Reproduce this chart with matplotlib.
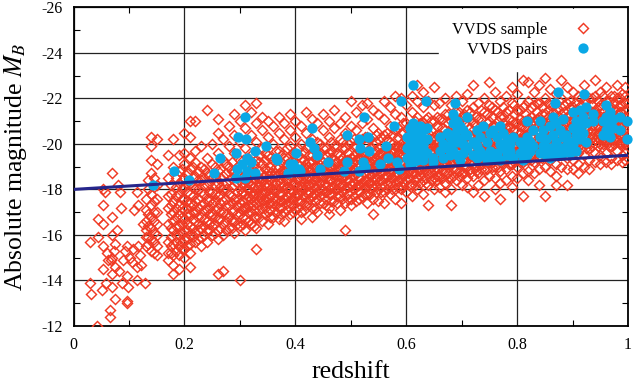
# VVDS sample and pairs, absolute magnitude against redshift
import matplotlib
matplotlib.use('Agg')
import matplotlib.pyplot as plt

plt.rcParams['font.family'] = ['Liberation Serif', 'DejaVu Serif']
plt.rcParams['mathtext.fontset'] = 'stix'
plt.rcParams['axes.unicode_minus'] = False

# scattered low redshift galaxies, read one by one
low_z = [.042, .065, .066, .030, .031, .051, .069, .054, .069, .075, .087, .096, .099, .096, .097,
         .114, .129, .114, .030, .045, .054, .069, .075, .096, .117, .120, .102, .044, .054, .069,
         .078, .069, .075, .053, .054, .056, .070, .081, .083, .085, .109, .117, .115, .126, .060,
         .090, .105, .062, .073, .082, .093, .108, .122, .058, .067]
low_mag = [-12.0, -12.7, -12.4, -13.9, -13.4, -13.6, -13.7, -14.5, -14.3, -13.2, -13.9, -14.2, -13.7, -13.1, -13.0,
           -14.6, -13.9, -14.0, -15.7, -15.9, -15.5, -15.0, -14.6, -15.5, -15.5, -15.1, -15.0, -16.7, -16.5, -16.8,
           -16.2, -16.0, -15.6, -17.3, -18.0, -17.9, -18.7, -18.2, -17.9, -17.2, -17.1, -17.3, -17.9, -16.5, -15.2,
           -14.9, -14.8, -14.9, -15.3, -14.4, -15.3, -15.4, -14.7, -13.9, -14.9]

# outer part of the sample, magnitudes read along each redshift column
col_z = [.13, .14, .15, .17, .18, .19, .20, .21, .22, .23, .24, .25, .26, .27, .28, .29, .30, .31, .32,
         .33, .34, .35, .36, .37, .38, .39, .40, .41, .42, .43, .44, .45, .46, .47, .48, .49, .50, .51, .52,
         .53, .54, .55, .56, .57, .58, .59, .60, .61, .62, .63, .64, .65, .66, .67, .68, .69, .70, .71, .72,
         .73, .74, .75, .76, .77, .78, .79, .80, .81, .82, .83, .84, .85, .86, .87, .88, .89, .90, .91, .92,
         .93, .94, .95, .96, .97, .98, .99, .995]
col_mags = [
    [-17.6, -17.1, -16.6, -16.2, -15.9, -15.5],
    [-20.3, -19.9, -19.3, -18.7, -17.8, -17.3, -16.8, -16.3, -15.8, -15.3],
    [-20.2, -19.1, -18.2, -17.6, -17.0, -16.5, -16.0, -15.5, -15.1],
    [-19.5, -18.5, -17.7, -17.2, -16.5, -15.7, -15.2, -14.9],
    [-20.2, -19.0, -17.5, -17.0, -16.6, -16.2, -15.6, -15.1, -14.7, -14.3],
    [-19.5, -18.8, -18.3, -17.8, -17.3, -16.9, -16.4, -16.0, -15.5, -15.1, -14.5],
    [-20.5, -19.6, -19.1, -18.5, -18.1, -17.6, -17.1, -16.7, -16.2, -15.8, -15.4, -15.0],
    [-21.0, -20.3, -19.4, -18.9, -18.3, -17.8, -17.4, -16.9, -16.4, -16.0, -15.6, -15.2, -14.6],
    [-21.0, -19.7, -19.2, -18.6, -18.0, -17.5, -17.0, -16.6, -16.1, -15.7],
    [-19.9, -19.0, -18.4, -17.9, -17.3, -16.8, -16.3, -15.9, -15.5],
    [-21.5, -19.4, -18.7, -18.2, -17.6, -17.1, -16.6, -16.2, -15.7],
    [-20.0, -19.1, -18.5, -17.9, -17.4, -16.9, -16.4, -16.0],
    [-21.1, -20.5, -19.6, -18.8, -18.3, -17.7, -17.2, -16.7, -16.2, -15.8, -14.3],
    [-20.2, -19.3, -18.6, -18.0, -17.5, -17.0, -16.5, -16.0, -14.4],
    [-20.8, -19.9, -19.0, -18.4, -17.8, -17.3, -16.8, -16.3],
    [-21.3, -20.4, -19.6, -18.8, -18.2, -17.6, -17.1, -16.6, -16.1],
    [-21.0, -20.1, -19.3, -18.6, -18.0, -17.4, -16.9, -16.4, -14.0],
    [-21.7, -20.7, -19.8, -19.1, -18.4, -17.8, -17.2, -16.7, -16.2],
    [-21.4, -20.4, -19.5, -18.8, -18.2, -17.6, -17.0, -16.5],
    [-21.8, -20.9, -20.1, -19.3, -18.6, -18.0, -17.4, -16.8, -16.3, -15.4],
    [-21.2, -20.6, -19.8, -19.1, -18.4, -17.8, -17.2, -16.6],
    [-21.0, -20.3, -19.5, -18.8, -18.2, -17.6, -17.0, -16.5],
    [-20.8, -20.0, -19.3, -18.6, -18.0, -17.4, -16.8],
    [-21.2, -20.5, -19.7, -19.0, -18.4, -17.8, -17.2, -16.7],
    [-20.9, -20.2, -19.4, -18.8, -18.2, -17.6, -17.0, -16.6],
    [-21.3, -20.6, -19.9, -19.2, -18.6, -18.0, -17.4, -16.9],
    [-21.0, -20.3, -19.6, -18.9, -18.3, -17.7, -17.1],
    [-20.8, -20.0, -19.4, -18.7, -18.1, -17.5, -17.0, -16.7],
    [-21.4, -20.5, -19.8, -19.1, -18.5, -17.9, -17.3],
    [-21.1, -20.2, -19.5, -18.9, -18.3, -17.7, -17.2, -16.8],
    [-20.9, -20.1, -19.4, -18.8, -18.2, -17.6, -17.0],
    [-21.3, -20.6, -19.8, -19.2, -18.6, -18.0, -17.4],
    [-21.0, -20.3, -19.6, -19.0, -18.4, -17.8, -17.2, -16.9],
    [-21.5, -20.7, -19.9, -19.3, -18.7, -18.1, -17.5],
    [-20.9, -20.2, -19.5, -18.9, -18.3, -17.7, -17.1],
    [-21.2, -20.5, -19.8, -19.2, -18.6, -18.0, -17.4, -16.2],
    [-21.9, -20.8, -20.1, -19.4, -18.8, -18.2, -17.6, -17.3],
    [-21.4, -20.6, -19.9, -19.3, -18.7, -18.1, -17.5],
    [-21.7, -20.9, -20.2, -19.5, -18.9, -18.3, -17.7],
    [-21.8, -21.1, -20.3, -19.6, -19.0, -18.4, -17.8, -17.4],
    [-21.5, -20.7, -20.0, -19.3, -18.7, -18.1, -17.6, -16.9],
    [-21.3, -20.5, -19.8, -19.2, -18.6, -18.0, -17.5],
    [-21.9, -21.1, -20.4, -19.7, -19.1, -18.5, -17.9, -17.4],
    [-21.6, -20.8, -20.1, -19.5, -18.9, -18.3, -17.8],
    [-22.1, -21.3, -20.6, -19.9, -19.2, -18.6, -18.0, -17.6],
    [-22.0, -21.2, -20.5, -19.8, -19.1, -18.5, -18.0, -17.4],
    [-21.7, -20.9, -20.2, -19.6, -19.0, -18.4, -17.9],
    [-22.1, -21.4, -20.7, -20.0, -19.3, -18.7, -18.2, -17.7],
    [-22.6, -21.9, -21.2, -20.5, -19.8, -19.1, -18.5, -18.0],
    [-22.3, -21.6, -20.9, -20.2, -19.6, -19.0, -18.4, -17.8],
    [-21.9, -21.2, -20.5, -19.9, -19.3, -18.7, -18.2, -17.3],
    [-22.5, -21.7, -21.0, -20.3, -19.7, -19.1, -18.5, -18.0],
    [-21.8, -21.1, -20.4, -19.8, -19.2, -18.6, -18.1],
    [-22.0, -21.3, -20.6, -20.0, -19.4, -18.8, -18.3, -17.9],
    [-21.7, -21.0, -20.3, -19.7, -19.1, -18.5, -18.0, -17.3],
    [-22.1, -21.4, -20.7, -20.1, -19.5, -18.9, -18.4],
    [-21.9, -21.2, -20.5, -19.9, -19.3, -18.7, -18.2],
    [-22.2, -21.5, -20.8, -20.2, -19.6, -19.0, -18.5, -18.1],
    [-22.6, -21.6, -20.9, -20.3, -19.7, -19.1, -18.6, -17.9],
    [-21.8, -21.1, -20.5, -19.9, -19.3, -18.7, -18.2],
    [-22.0, -21.4, -20.7, -20.1, -19.5, -18.9, -18.4, -17.7],
    [-22.7, -21.7, -21.0, -20.4, -19.8, -19.2, -18.6],
    [-22.3, -21.5, -20.8, -20.2, -19.6, -19.0, -18.5, -18.0],
    [-21.9, -21.2, -20.6, -20.0, -19.4, -18.8, -18.3, -17.6],
    [-22.1, -21.4, -20.7, -20.1, -19.5, -18.9, -18.4],
    [-22.5, -21.8, -21.0, -20.3, -19.7, -19.1, -18.6, -18.1],
    [-22.2, -21.5, -20.9, -20.2, -19.6, -19.0, -18.5],
    [-22.8, -21.6, -21.0, -20.4, -19.8, -19.2, -18.7, -17.7],
    [-22.7, -21.9, -21.1, -20.5, -19.9, -19.3, -18.8, -18.4],
    [-22.3, -21.7, -21.0, -20.4, -19.8, -19.2, -18.7],
    [-22.6, -21.8, -21.2, -20.6, -20.0, -19.4, -18.9, -18.2],
    [-22.9, -22.0, -21.3, -20.7, -20.1, -19.5, -19.0, -17.7],
    [-22.4, -21.7, -21.1, -20.5, -19.9, -19.3, -18.8],
    [-22.2, -21.5, -20.9, -20.3, -19.7, -19.1, -18.6, -18.2],
    [-22.8, -22.0, -21.3, -20.7, -20.1, -19.5, -19.0],
    [-22.5, -21.8, -21.2, -20.6, -20.0, -19.4, -18.9, -18.2],
    [-22.3, -21.6, -21.0, -20.4, -19.8, -19.3, -18.9],
    [-22.1, -21.4, -20.8, -20.2, -19.6, -19.1, -18.7],
    [-22.6, -21.9, -21.3, -20.7, -20.1, -19.5, -19.0],
    [-22.0, -21.5, -20.9, -20.3, -19.8, -19.3, -18.9],
    [-22.8, -22.1, -21.4, -20.8, -20.2, -19.6, -19.2],
    [-22.3, -21.7, -21.1, -20.5, -20.0, -19.5, -19.1],
    [-22.5, -21.9, -21.2, -20.6, -20.1, -19.6, -19.2],
    [-22.1, -21.6, -21.0, -20.4, -19.9, -19.4, -19.1],
    [-22.6, -22.0, -21.3, -20.7, -20.2, -19.7, -19.3],
    [-22.2, -21.7, -21.1, -20.5, -20.0, -19.5, -19.2],
    [-22.5, -21.8, -21.2, -20.6, -20.1, -19.6, -19.3],
]

# crowded core of the sample, read along the redshift columns in between
core_z = [.135, .145, .175, .185, .195, .205, .215, .225, .235, .245, .255, .265, .275, .285, .295, .305, .315, .325,
          .335, .345, .355, .365, .375, .385, .395, .405, .415, .425, .435, .445, .455, .465, .475, .485, .495, .505,
          .515, .525, .535, .545, .555, .565, .575, .585, .595, .605, .615, .625, .635, .645, .655, .665, .675, .685,
          .695, .705, .715, .725, .735, .745, .755, .765, .775, .785, .795, .805, .815, .825, .835, .845, .855, .865,
          .875, .885, .895, .905, .915, .925, .935, .945, .955, .965, .975, .985, .995]
core_mags = [
    [-18.4, -18.0, -16.9, -16.4, -15.9, -15.6],
    [-18.5, -18.1, -17.5, -17.0, -16.6, -16.1, -15.7, -15.2],
    [-18.2, -17.8, -17.3, -16.9, -16.3, -15.9, -15.5, -15.2],
    [-18.5, -18.1, -17.7, -17.2, -16.8, -16.4, -16.0, -15.7, -15.3],
    [-18.9, -18.4, -18.0, -17.6, -17.2, -16.8, -16.5, -16.1, -15.7, -15.4],
    [-18.7, -18.3, -17.9, -17.5, -17.2, -16.9, -16.5, -16.2, -15.8, -15.5],
    [-19.0, -18.5, -18.1, -17.7, -17.3, -17.0, -16.7, -16.3, -15.9],
    [-18.8, -18.4, -18.0, -17.6, -17.2, -16.8, -16.5, -16.2, -15.8],
    [-18.9, -18.5, -18.2, -17.8, -17.4, -17.1, -16.7, -16.4, -16.0],
    [-18.6, -18.3, -17.9, -17.5, -17.2, -16.9, -16.5, -16.2],
    [-19.0, -18.6, -18.2, -17.8, -17.5, -17.1, -16.8, -16.5, -16.1],
    [-18.9, -18.5, -18.1, -17.8, -17.4, -17.0, -16.7, -16.3],
    [-19.1, -18.7, -18.3, -18.0, -17.6, -17.3, -16.9, -16.6, -16.2],
    [-19.2, -18.8, -18.5, -18.1, -17.7, -17.4, -17.0, -16.6, -16.3],
    [-19.0, -18.7, -18.3, -17.9, -17.6, -17.3, -16.9, -16.5],
    [-19.3, -18.9, -18.6, -18.2, -17.9, -17.5, -17.2, -16.8, -16.5],
    [-19.4, -19.0, -18.7, -18.3, -18.0, -17.7, -17.3, -17.0, -16.6],
    [-19.1, -18.8, -18.5, -18.1, -17.8, -17.5, -17.1, -16.8, -16.4],
    [-19.5, -19.2, -18.8, -18.5, -18.2, -17.8, -17.5, -17.1, -16.8],
    [-19.6, -19.3, -18.9, -18.6, -18.2, -17.9, -17.6, -17.2, -16.9],
    [-19.4, -19.0, -18.7, -18.4, -18.0, -17.7, -17.4, -17.1, -16.8],
    [-19.7, -19.3, -19.0, -18.6, -18.3, -18.0, -17.6, -17.3, -17.0],
    [-19.5, -19.2, -18.8, -18.5, -18.1, -17.8, -17.5, -17.2, -16.9],
    [-19.8, -19.4, -19.1, -18.7, -18.4, -18.1, -17.7, -17.4, -17.1],
    [-19.6, -19.2, -18.9, -18.6, -18.2, -17.9, -17.6, -17.3, -17.0],
    [-19.8, -19.5, -19.1, -18.8, -18.5, -18.1, -17.8, -17.5, -17.2],
    [-19.6, -19.3, -19.0, -18.6, -18.3, -18.0, -17.7, -17.4, -17.1],
    [-19.9, -19.5, -19.2, -18.9, -18.5, -18.2, -17.9, -17.6, -17.3],
    [-19.7, -19.4, -19.0, -18.7, -18.4, -18.1, -17.8, -17.5, -17.2],
    [-20.0, -19.6, -19.3, -18.9, -18.6, -18.3, -18.0, -17.7, -17.4],
    [-19.8, -19.5, -19.1, -18.8, -18.5, -18.2, -17.9, -17.6, -17.3],
    [-20.1, -19.7, -19.4, -19.0, -18.7, -18.4, -18.1, -17.8, -17.5],
    [-19.9, -19.6, -19.2, -18.9, -18.6, -18.3, -18.0, -17.7, -17.4],
    [-20.1, -19.8, -19.4, -19.1, -18.8, -18.5, -18.2, -17.9, -17.6],
    [-20.0, -19.6, -19.3, -19.0, -18.7, -18.4, -18.1, -17.8, -17.6],
    [-20.2, -19.9, -19.5, -19.2, -18.9, -18.6, -18.3, -18.0, -17.7],
    [-20.1, -19.7, -19.4, -19.1, -18.8, -18.5, -18.2, -17.9, -17.6],
    [-20.3, -20.0, -19.6, -19.3, -19.0, -18.7, -18.4, -18.1, -17.8],
    [-20.2, -19.8, -19.5, -19.2, -18.9, -18.6, -18.3, -18.0, -17.8],
    [-20.4, -20.1, -19.7, -19.4, -19.1, -18.8, -18.5, -18.2, -17.9],
    [-20.3, -19.9, -19.6, -19.3, -19.0, -18.7, -18.4, -18.1, -17.9],
    [-20.5, -20.2, -19.8, -19.5, -19.2, -18.9, -18.6, -18.3, -18.0],
    [-20.4, -20.0, -19.7, -19.4, -19.1, -18.8, -18.5, -18.2, -18.0],
    [-20.7, -20.3, -19.9, -19.6, -19.3, -19.0, -18.7, -18.4, -18.1],
    [-20.9, -20.5, -20.1, -19.8, -19.5, -19.2, -18.9, -18.6, -18.3, -18.1],
    [-20.8, -20.4, -20.0, -19.7, -19.4, -19.1, -18.8, -18.5, -18.2],
    [-21.0, -20.6, -20.2, -19.9, -19.6, -19.3, -19.0, -18.7, -18.4, -18.2],
    [-20.9, -20.5, -20.1, -19.8, -19.5, -19.2, -18.9, -18.6, -18.3],
    [-21.1, -20.7, -20.3, -20.0, -19.7, -19.4, -19.1, -18.8, -18.5, -18.3],
    [-21.0, -20.6, -20.2, -19.9, -19.6, -19.3, -19.0, -18.7, -18.4],
    [-21.2, -20.8, -20.4, -20.1, -19.8, -19.5, -19.2, -18.9, -18.6, -18.4],
    [-21.1, -20.7, -20.3, -20.0, -19.7, -19.4, -19.1, -18.8, -18.5],
    [-21.3, -20.9, -20.5, -20.2, -19.9, -19.6, -19.3, -19.0, -18.7, -18.5],
    [-21.2, -20.8, -20.4, -20.1, -19.8, -19.5, -19.2, -18.9, -18.6],
    [-21.4, -21.0, -20.6, -20.3, -20.0, -19.7, -19.4, -19.1, -18.8, -18.6],
    [-21.3, -20.9, -20.5, -20.2, -19.9, -19.6, -19.3, -19.0, -18.7],
    [-21.4, -21.1, -20.7, -20.4, -20.1, -19.8, -19.5, -19.2, -18.9, -18.7],
    [-21.2, -20.8, -20.5, -20.2, -19.9, -19.6, -19.3, -19.0, -18.8],
    [-21.5, -21.1, -20.7, -20.3, -20.0, -19.7, -19.4, -19.1, -18.9],
    [-21.3, -20.9, -20.6, -20.3, -20.0, -19.7, -19.4, -19.2, -18.9],
    [-21.6, -21.2, -20.8, -20.4, -20.1, -19.8, -19.5, -19.2, -19.0],
    [-21.4, -21.0, -20.7, -20.4, -20.1, -19.8, -19.6, -19.3, -19.0],
    [-21.6, -21.2, -20.9, -20.5, -20.2, -19.9, -19.6, -19.3, -19.1],
    [-21.5, -21.1, -20.8, -20.5, -20.2, -19.9, -19.7, -19.4, -19.1],
    [-21.7, -21.3, -20.9, -20.6, -20.3, -20.0, -19.7, -19.4, -19.2],
    [-21.5, -21.1, -20.8, -20.5, -20.2, -20.0, -19.7, -19.5, -19.2],
    [-21.7, -21.3, -21.0, -20.7, -20.4, -20.1, -19.8, -19.5, -19.3],
    [-21.6, -21.2, -20.9, -20.6, -20.3, -20.0, -19.8, -19.5, -19.3],
    [-21.8, -21.4, -21.1, -20.8, -20.5, -20.2, -19.9, -19.6, -19.4],
    [-21.6, -21.3, -21.0, -20.7, -20.4, -20.1, -19.9, -19.7, -19.4],
    [-21.8, -21.5, -21.2, -20.9, -20.6, -20.3, -20.0, -19.7, -19.5],
    [-21.7, -21.4, -21.1, -20.8, -20.5, -20.2, -20.0, -19.8, -19.5],
    [-21.9, -21.5, -21.2, -20.9, -20.6, -20.3, -20.1, -19.8, -19.6],
    [-21.7, -21.4, -21.1, -20.8, -20.5, -20.3, -20.0, -19.8, -19.6],
    [-21.9, -21.6, -21.3, -21.0, -20.7, -20.4, -20.2, -19.9, -19.7],
    [-21.8, -21.5, -21.2, -20.9, -20.6, -20.4, -20.1, -19.9, -19.7],
    [-22.0, -21.7, -21.3, -21.0, -20.8, -20.5, -20.2, -20.0, -19.8],
    [-21.9, -21.5, -21.2, -21.0, -20.7, -20.4, -20.2, -20.0, -19.8],
    [-22.0, -21.7, -21.4, -21.1, -20.8, -20.6, -20.3, -20.1, -19.9],
    [-21.9, -21.6, -21.3, -21.1, -20.8, -20.5, -20.3, -20.1, -19.9],
    [-22.1, -21.7, -21.4, -21.2, -20.9, -20.6, -20.4, -20.2, -20.0],
    [-21.9, -21.6, -21.4, -21.1, -20.8, -20.6, -20.3, -20.1, -19.9],
    [-22.1, -21.8, -21.5, -21.2, -20.9, -20.7, -20.4, -20.2, -20.0],
    [-22.0, -21.7, -21.4, -21.1, -20.9, -20.6, -20.4, -20.1, -20.0],
    [-22.1, -21.8, -21.5, -21.2, -21.0, -20.7, -20.5, -20.2, -20.0],
]

# solid red band under the fit line, read between the core columns
band_z = [.303, .313, .323, .333, .343, .353, .363, .373, .383, .393, .403, .413, .423, .433, .443, .453, .463, .473, .483, .493,
          .503, .513, .523, .533, .543, .553, .563, .573, .583, .593, .603, .613, .623, .633, .643, .653, .663, .673, .683, .693,
          .708, .728, .748, .768, .788, .808, .828, .848, .868, .888, .908, .928, .948, .968, .988]
band_mags = [
    [-18.3, -17.9, -17.5, -17.1], [-18.4, -18.0, -17.6, -17.2], [-18.5, -18.1, -17.7, -17.3], [-18.5, -18.1, -17.7, -17.3],
    [-18.6, -18.2, -17.8, -17.4], [-18.6, -18.2, -17.8, -17.4], [-18.7, -18.3, -17.9, -17.5], [-18.7, -18.3, -17.9, -17.5],
    [-18.8, -18.4, -18.0, -17.6], [-18.8, -18.4, -18.0, -17.6], [-18.9, -18.5, -18.1, -17.7], [-18.9, -18.5, -18.1, -17.7],
    [-19.0, -18.6, -18.2, -17.8], [-19.0, -18.6, -18.2, -17.8], [-19.1, -18.7, -18.3, -17.9], [-19.1, -18.7, -18.3, -17.9],
    [-19.2, -18.8, -18.4, -18.0], [-19.2, -18.8, -18.4, -18.0], [-19.3, -18.9, -18.5, -18.1], [-19.3, -18.9, -18.5, -18.1],
    [-19.4, -19.0, -18.6, -18.2], [-19.4, -19.0, -18.6, -18.2], [-19.5, -19.1, -18.7, -18.3], [-19.5, -19.1, -18.7, -18.3],
    [-19.6, -19.2, -18.8, -18.4], [-19.6, -19.2, -18.8, -18.4], [-19.7, -19.3, -18.9, -18.5], [-19.7, -19.3, -18.9, -18.5],
    [-19.8, -19.4, -19.0, -18.6], [-19.9, -19.5, -19.1, -18.7], [-19.9, -19.5, -19.1, -18.7], [-20.0, -19.6, -19.2, -18.8],
    [-20.0, -19.6, -19.2, -18.8], [-20.1, -19.7, -19.3, -18.9], [-20.1, -19.7, -19.3, -18.9], [-20.2, -19.8, -19.4, -19.0],
    [-20.2, -19.8, -19.4, -19.0], [-20.3, -19.9, -19.5, -19.1], [-20.3, -19.9, -19.5, -19.1], [-20.4, -20.0, -19.6, -19.2],
    [-20.4, -19.8, -19.3], [-20.5, -19.9, -19.4], [-20.6, -20.0, -19.5], [-20.6, -20.1, -19.6], [-20.7, -20.1, -19.6],
    [-20.8, -20.2, -19.7], [-20.8, -20.3, -19.8], [-20.9, -20.3, -19.8], [-21.0, -20.4, -19.9], [-21.0, -20.5, -20.0],
    [-21.1, -20.5, -20.0], [-21.2, -20.6, -20.1], [-21.2, -20.7, -20.2], [-21.3, -20.7, -20.2], [-21.4, -20.8, -20.3],
]

# pairs left of the main clump
pair_z = [.144, .181, .209, .253, .265, .293, .309, .296, .311, .327, .347, .365, .367, .401, .395,
          .386, .294, .312, .321, .303, .327, .312, .293, .309, .402, .408, .391, .406, .430, .427,
          .433, .440, .445, .459, .493, .487, .493, .514, .532, .533, .517, .563, .514, .522, .526,
          .553, .568, .583, .587, .524, .578, .612, .591, .635, .688, .873, .920, .868]
pair_mag = [-18.2, -18.8, -18.4, -18.7, -19.4, -19.6, -21.2, -20.3, -20.2, -19.7, -19.9, -19.4, -19.3, -19.6, -19.1,
            -18.7, -18.9, -19.4, -19.2, -19.1, -18.7, -18.8, -18.5, -18.5, -18.9, -18.8, -19.1, -18.9, -20.7, -20.1,
            -19.8, -19.5, -18.9, -19.2, -20.4, -18.8, -19.2, -18.8, -20.3, -19.7, -19.8, -19.9, -20.2, -19.2, -19.0,
            -19.1, -19.4, -19.2, -18.9, -21.2, -20.8, -22.6, -21.9, -21.9, -21.8, -22.3, -22.2, -21.8]

# main clump of pairs, read along redshift columns
clump_z = [.601, .607, .613, .619, .625, .631, .637, .649, .661, .667, .673, .679, .685, .691, .697, .703, .709, .721,
           .727, .733, .739, .745, .751, .757, .763, .769, .775, .781, .787, .793, .805, .811, .817, .823, .829, .841,
           .847, .853, .859, .865, .871, .877, .883, .889, .895, .901, .907, .913, .919, .925, .937, .955, .961, .967,
           .973, .985, .998]
clump_mags = [
    [-20.3, -19.8, -19.4],
    [-20.7, -20.0, -19.5, -19.1],
    [-20.9, -20.4, -19.9, -19.2],
    [-20.6, -20.1, -19.7, -19.3],
    [-20.8, -20.3, -19.5],
    [-20.6, -20.0, -19.8, -19.3],
    [-20.7, -20.2, -19.6],
    [-19.4, -19.2],
    [-20.3, -19.7],
    [-20.0, -19.4],
    [-20.5, -19.8],
    [-20.3, -19.9, -19.5],
    [-21.3, -20.9, -20.4, -19.7],
    [-21.0, -20.6, -20.1, -19.5],
    [-20.8, -20.2, -19.3],
    [-20.6, -20.0, -19.6],
    [-21.2, -20.4, -19.8],
    [-20.1, -19.5],
    [-20.6, -19.9, -19.4],
    [-20.3, -19.7],
    [-20.8, -19.5],
    [-20.1, -19.3],
    [-20.5, -19.7],
    [-20.6, -19.4],
    [-20.3, -19.6],
    [-20.8, -20.0, -19.3],
    [-20.5, -19.8],
    [-20.2, -19.5],
    [-20.0, -19.7],
    [-20.3, -19.4],
    [-20.1, -19.6],
    [-19.9, -19.3],
    [-21.0, -20.3, -19.5],
    [-20.1, -19.7],
    [-20.6, -19.9],
    [-21.0, -20.3, -19.6],
    [-20.6, -19.9],
    [-20.2, -19.5],
    [-20.8, -19.8, -19.4],
    [-21.2, -20.4, -19.7],
    [-20.9, -20.1, -19.5],
    [-20.6, -19.8],
    [-21.1, -20.3, -19.6],
    [-20.4, -19.9],
    [-20.1, -19.6],
    [-21.4, -20.7, -20.0],
    [-21.0, -20.4, -19.7],
    [-21.5, -20.8, -20.2],
    [-21.2, -20.5],
    [-21.6, -20.9, -20.1],
    [-21.3, -21.0],
    [-21.0, -20.4],
    [-21.7, -21.2, -20.6],
    [-21.4, -20.9, -20.3],
    [-21.1, -20.7],
    [-21.2, -20.6],
    [-21.0, -20.2],
]

fit_z = [0, 1]
fit_mag = [-18.0, -19.5]

xticks = [0, 0.2, 0.4, 0.6, 0.8, 1]
yticks = [-26, -24, -22, -20, -18, -16, -14, -12]

sample_z = list(low_z)
sample_mag = list(low_mag)
for z, mags in list(zip(col_z, col_mags)) + list(zip(core_z, core_mags)) + list(zip(band_z, band_mags)):
    sample_z += [z] * len(mags)
    sample_mag += mags

all_pair_z = list(pair_z)
all_pair_mag = list(pair_mag)
for z, mags in zip(clump_z, clump_mags):
    all_pair_z += [z] * len(mags)
    all_pair_mag += mags

fig = plt.figure(figsize=(6.33, 3.84), dpi=100)
ax = fig.add_axes([73.5 / 633, 1 - 326 / 384, 554.5 / 633, 318.7 / 384])

ax.plot(sample_z, sample_mag, ls='none', marker='D', ms=5.6, mfc='none', mec='#f03a24', mew=1.05,
        label='VVDS sample', zorder=3)
ax.plot(all_pair_z, all_pair_mag, ls='none', marker='o', ms=7.4, color='#0aa8e6', mew=0,
        label='VVDS pairs', zorder=4, clip_on=False)
ax.plot(fit_z, fit_mag, color='#26268c', lw=2.2, zorder=5)

ax.set_xlim(0, 1)
ax.set_ylim(-12, -26)
ax.set_xticks(xticks)
ax.set_xticklabels(['0', '0.2', '0.4', '0.6', '0.8', '1'])
ax.set_yticks(yticks)
ax.set_xticks([0.1, 0.3, 0.5, 0.7, 0.9], minor=True)
ax.set_yticks([-25, -23, -21, -19, -17, -15, -13], minor=True)
ax.tick_params(which='major', direction='in', top=True, right=True, length=0, labelsize=11.5, pad=8)
ax.tick_params(which='minor', direction='in', top=True, right=True, length=4, width=0.8)
ax.grid(True, which='major', color='#222222', lw=0.9, zorder=1)
ax.set_axisbelow(True)
for side in ax.spines.values():
    side.set_linewidth(1.3)

ax.set_xlabel('redshift', fontsize=18.5, labelpad=6)
ax.set_ylabel(r'Absolute magnitude $M_B$', fontsize=18.5, labelpad=9)

leg = ax.legend(loc='upper right', bbox_to_anchor=(1.008, 1.0), markerfirst=False, frameon=True, framealpha=1,
                fancybox=False, edgecolor='white', fontsize=11.8, labelspacing=0.25, handletextpad=0.1,
                borderaxespad=0.1, borderpad=0.8, handlelength=4.2, numpoints=1, alignment='right')
leg.set_zorder(2)
for t in leg.get_texts():
    t.set_ha('right')

fig.savefig('out.png', dpi=100)
